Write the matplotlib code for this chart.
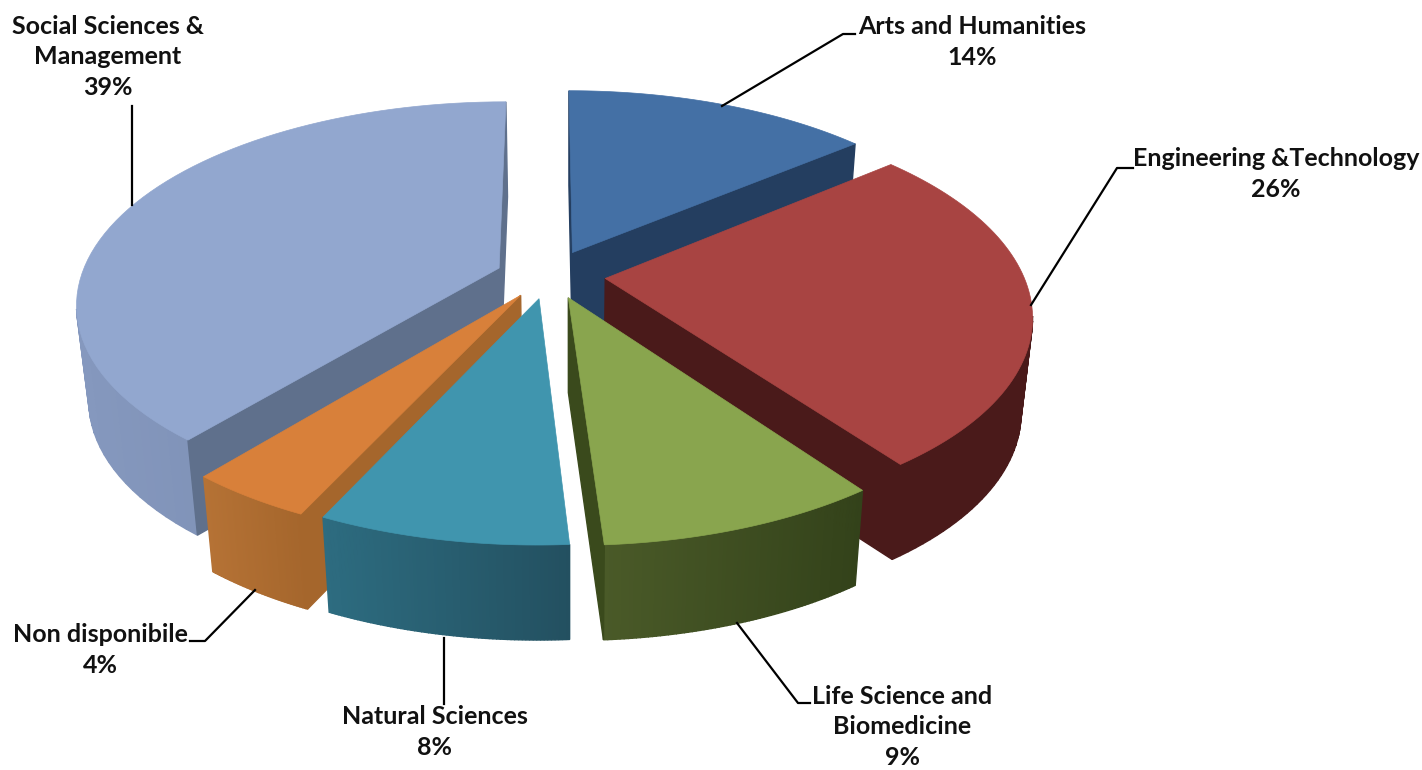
#!/usr/bin/env python3

import matplotlib
matplotlib.use("Agg")
import matplotlib.pyplot as plt
import matplotlib.colors as mcolors
import numpy as np

categories = ["Arts and Humanities", "Engineering &Technology", "Life Science and\nBiomedicine",
              "Natural Sciences", "Non disponibile", "Social Sciences &\nManagement"]
shares = [14, 26, 9, 8, 4, 39]
explode = [0.14, 0.14, 0.12, 0.10, 0.12, 0.12]

top_colors = ["#4470A5", "#A84442", "#89A54E", "#4095AE", "#D8803A", "#92A7CF"]
cut_colors = ["#243E60", "#4A1A1A", "#3A4A1C", "#2D6C80", "#A5662C", "#5F708C"]
wall_left = ["#243E60", "#4A1A1A", "#4A5A28", "#2D6C80", "#B57235", "#8598BE"]
wall_right = ["#243E60", "#4A1A1A", "#33421A", "#235060", "#A5662C", "#7587AB"]

# back to front
draw_order = [0, 5, 1, 4, 3, 2]

# small shift of each slice on screen, pixels
nudge = [(3, -2), (2, -4), (6, -4), (2, 0), (3, -4), (1, -3)]

label_pos = [(972, 42), (1276, 174), (902, 727), (435, 732), (100, 650), (108, 57)]
leaders = [[(722, 106), (843, 34), (855, 34)],
           [(1031, 305), (1117, 168), (1133, 168)],
           [(737, 623), (798, 703), (810, 703)],
           [(444, 638), (444, 704)],
           [(255, 590), (205, 641), (190, 641)],
           [(132, 205), (132, 106)]]

cx, cy = 545, 279
rx, ry = 418, 197
persp = 0.17
depth = 95
# the bottom of the pie is a bit narrower than the top
bottom_scale = 0.975
bottom_x0 = 570


# pie plane -> screen, plane v points to the back of the picture
def project(u, v):
    s = 1 / (1 + persp * v)
    return cx + rx * u * s, cy - ry * v * s


def low(x):
    return bottom_x0 + (x - bottom_x0) * bottom_scale


fig = plt.figure(figsize=(14.22, 7.7), dpi=100)
ax = fig.add_axes([0, 0, 1, 1])
ax.set_xlim(0, 1422)
ax.set_ylim(770, 0)
ax.axis("off")

edges = np.cumsum([0] + shares) / sum(shares) * 2 * np.pi


def wall(x1, y1, x2, y2, color, z):
    ax.fill([x1, x2, low(x2), low(x1)], [y1, y2, y2 + depth, y1 + depth],
            facecolor=color, edgecolor=color, lw=1.0, zorder=z)


for n, i in enumerate(draw_order):
    mid = (edges[i] + edges[i + 1]) / 2
    ou, ov = explode[i] * np.sin(mid), explode[i] * np.cos(mid)
    t = np.linspace(edges[i], edges[i + 1], 70)
    ax_x, ax_y = project(ou, ov)
    arc_x, arc_y = project(ou + np.sin(t), ov + np.cos(t))
    ax_x, ax_y = ax_x + nudge[i][0], ax_y + nudge[i][1]
    arc_x, arc_y = arc_x + nudge[i][0], arc_y + nudge[i][1]
    z = n * 10

    # outer wall, only the strips going right to left face us
    x0, x1 = arc_x.min(), arc_x.max()
    c0, c1 = np.array(mcolors.to_rgb(wall_left[i])), np.array(mcolors.to_rgb(wall_right[i]))
    for k in range(len(t) - 1):
        if arc_x[k + 1] < arc_x[k]:
            f = ((arc_x[k] + arc_x[k + 1]) / 2 - x0) / (x1 - x0)
            wall(arc_x[k], arc_y[k], arc_x[k + 1], arc_y[k + 1], c0 + (c1 - c0) * f, z)

    # the two cut faces
    if arc_x[0] < ax_x:
        wall(ax_x, ax_y, arc_x[0], arc_y[0], cut_colors[i], z + 1)
    if ax_x < arc_x[-1]:
        wall(arc_x[-1], arc_y[-1], ax_x, ax_y, cut_colors[i], z + 1)

    ax.fill(np.r_[ax_x, arc_x], np.r_[ax_y, arc_y], facecolor=top_colors[i],
            edgecolor=top_colors[i], lw=0.5, zorder=z + 2)

for pts in leaders:
    ax.plot([p[0] for p in pts], [p[1] for p in pts], color="black", lw=1.6, zorder=100)

for name, val, pos in zip(categories, shares, label_pos):
    ax.text(pos[0], pos[1], "%s\n%d%%" % (name, val), ha="center", va="center", family="Lato",
            weight="bold", fontsize=18, color="#111111", linespacing=1.4, zorder=101)

fig.savefig("out.png", dpi=100)
